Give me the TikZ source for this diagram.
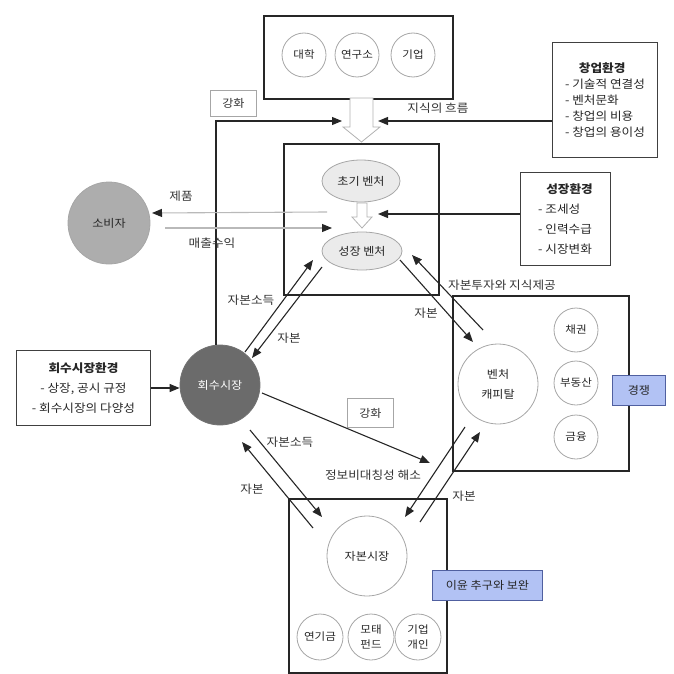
\documentclass[tikz,border=0pt]{standalone}
\usepackage{fontspec}
\setmainfont{Noto Sans CJK KR}[FakeStretch=1.1]
\usetikzlibrary{arrows.meta,shapes.geometric,calc}
\definecolor{bluefill}{RGB}{178,194,244}
\definecolor{blueline}{RGB}{80,96,160}
\tikzset{
  frame/.style={draw=black!85, line width=1.6pt, anchor=north west, inner sep=0pt},
  tbox/.style={draw=black!75, line width=1pt, anchor=north west, inner sep=0pt, align=left, text=black!85},
  smallc/.style={circle, draw=gray!70, line width=0.8pt, minimum size=44pt, inner sep=0pt, text=black!85, font=\fontsize{10.5}{14}\selectfont, align=center},
  bigc/.style={circle, draw=gray!70, line width=0.8pt, minimum size=80pt, inner sep=0pt, text=black!85, font=\fontsize{11}{20}\selectfont, align=center},
  ell/.style={ellipse, draw=gray!70, fill=black!8, line width=0.8pt, inner sep=0pt, text=black!85, font=\fontsize{11}{12}\selectfont},
  arr/.style={draw=black!85, line width=1.1pt, -{Triangle[length=10pt,width=8pt]}},
  garr/.style={draw=gray!55, line width=1.1pt, -{Triangle[length=10pt,width=8pt,fill=black!85,color=black!85]}},
  lbl/.style={font=\fontsize{11.5}{12}\selectfont, text=black!80, inner sep=1pt},
  gbox/.style={draw=gray!70, line width=0.9pt, inner sep=0pt, anchor=north west, font=\fontsize{11}{12}\selectfont, text=black!80},
  bluebox/.style={draw=blueline, fill=bluefill, line width=0.9pt, inner sep=0pt, anchor=north west, font=\fontsize{11}{12}\selectfont, text=black!85},
  hollow/.style={draw=gray!60, fill=white, line width=0.8pt}
}
\begin{document}
\begin{tikzpicture}[x=1pt,y=-1pt]
\useasboundingbox (0,0) rectangle (673,674);

% ---- frames
\node[frame, minimum width=189pt, minimum height=83pt] (tb) at (263,15) {};
\node[frame, minimum width=155pt, minimum height=151pt] (mb) at (283,143) {};
\node[frame, minimum width=176pt, minimum height=175pt] (vb) at (452,295) {};
\node[frame, minimum width=158pt, minimum height=174pt] (kb) at (288,498) {};

% ---- top box circles
\node[smallc] (univ) at (304,55) {대학};
\node[smallc] (inst) at (357,55) {연구소};
\node[smallc] (firm) at (413,55) {기업};

% ---- environment boxes
\node[tbox, minimum width=105pt, minimum height=115pt, font=\fontsize{11.5}{16}\selectfont] (cb) at (552,42)
  {\hspace*{1.2em}\textbf{창업환경}\\ - 기술적 연결성\\ - 벤처문화\\ - 창업의 비용\\ - 창업의 용이성};
\node[tbox, minimum width=90pt, minimum height=93pt, font=\fontsize{11.5}{20}\selectfont] (gb) at (520,172)
  {\hspace*{0.7em}\textbf{성장환경}\\ - 조세성\\ - 인력수급\\ - 시장변화};
\node[tbox, minimum width=134pt, minimum height=75pt, align=center, font=\fontsize{11.5}{20}\selectfont] (hb) at (16,350)
  {\textbf{회수시장환경}\\ - 상장, 공시 규정\\ - 회수시장의 다양성};

% ---- ventures
\node[ell, minimum width=78pt, minimum height=42pt] (ev) at (361,181) {초기 벤처};
\node[ell, minimum width=80pt, minimum height=38pt] (gv) at (362,251) {성장 벤처};

% ---- actors
\node[bigc, fill=black!32, minimum size=82pt] (cons) at (109,223) {소비자};
\node[bigc, fill=black!58, draw=black!55, text=white] (hs) at (220,385) {회수시장};
\node[bigc] (vc) at (498,384) {벤처\\캐피탈};
\node[smallc] (bond) at (576,330) {채권};
\node[smallc] (estate) at (576,383) {부동산};
\node[smallc] (fin) at (576,437) {금융};
\node[bigc] (km) at (367,556) {자본시장};
\node[smallc, minimum size=46pt] (pens) at (320,637) {연기금};
\node[smallc, minimum size=46pt, font=\fontsize{10.5}{15}\selectfont] (mfund) at (371,637) {모태\\펀드};
\node[smallc, minimum size=46pt, font=\fontsize{10.5}{15}\selectfont] (corp) at (418,637) {기업\\개인};

% ---- label boxes
\node[gbox, minimum width=46pt, minimum height=26pt] (re1) at (210,90) {강화};
\node[gbox, minimum width=46pt, minimum height=29pt] (re2) at (347,398) {강화};
\node[bluebox, minimum width=53pt, minimum height=30pt] (comp) at (612,375) {경쟁};
\node[bluebox, minimum width=110pt, minimum height=30pt] (profit) at (432,570) {이윤 추구와 보완};

% ---- hollow block arrows
\draw[hollow] (350,98) -- (350,127) -- (343,127) -- (361.5,142) -- (380,127) -- (373,127) -- (373,98) -- cycle;
\draw[hollow] (357,203) -- (357,217) -- (352,217) -- (362,228) -- (372,217) -- (367,217) -- (367,203) -- cycle;

% ---- connector end points
\coordinate (kL) at (342,121);
\coordinate (kR) at (378,121);
\coordinate (gR) at (378,214);
\coordinate (pS) at (327,212);
\coordinate (pE) at (152,213);
\coordinate (rS) at (165,228);
\coordinate (rE) at (332,228);
\coordinate (a1s) at (245,352); \coordinate (a1e) at (313,260);
\coordinate (a2s) at (322,267); \coordinate (a2e) at (252,358);
\coordinate (a3s) at (400,260); \coordinate (a3e) at (473,342);
\coordinate (a4s) at (483,330); \coordinate (a4e) at (412,255);
\coordinate (a5s) at (262,393); \coordinate (a5e) at (430,463);
\coordinate (a6s) at (250,430); \coordinate (a6e) at (322,517);
\coordinate (a7s) at (313,528); \coordinate (a7e) at (242,442);
\coordinate (a8s) at (465,427); \coordinate (a8e) at (405,517);
\coordinate (a9s) at (420,522); \coordinate (a9e) at (480,432);

% ---- connectors
\draw[arr] (hs.north -| 216,0) |- (kL);
\draw[arr] (cb.west |- kR) -- (kR);
\draw[arr] (gb.west |- gR) -- (gR);
\draw[arr] (hb.east |- 0,388) -- (hs.west |- 0,388);
\draw[garr] (pS) -- (pE);
\draw[garr] (rS) -- (rE);
\draw[arr] (a1s) -- (a1e);
\draw[arr] (a2s) -- (a2e);
\draw[arr] (a3s) -- (a3e);
\draw[arr] (a4s) -- (a4e);
\draw[arr] (a5s) -- (a5e);
\draw[arr] (a6s) -- (a6e);
\draw[arr] (a7s) -- (a7e);
\draw[arr] (a8s) -- (a8e);
\draw[arr] (a9s) -- (a9e);

% ---- connector labels
\node[lbl] (lk) at (438,108) {지식의 흐름};
\node[lbl] (lp) at (181,196) {제품};
\node[lbl] (lr) at (212,243) {매출수익};
\node[lbl] (l1) at (251,300) {자본소득};
\node[lbl] (l2) at (289,338) {자본};
\node[lbl] (l3) at (426,313) {자본};
\node[lbl] (l4) at (502,285) {자본투자와 지식제공};
\node[lbl] (l6) at (290,442) {자본소득};
\node[lbl] (l7) at (252,489) {자본};
\node[lbl] (l5) at (373,475) {정보비대칭성 해소};
\node[lbl] (l8) at (464,496) {자본};
\end{tikzpicture}
\end{document}
